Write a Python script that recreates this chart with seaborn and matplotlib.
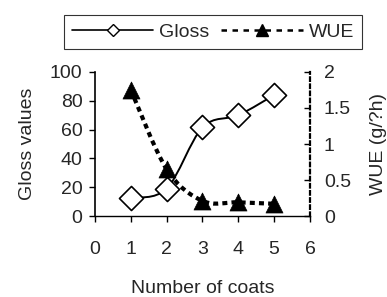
import numpy as np
import matplotlib
matplotlib.use("Agg")
import matplotlib.pyplot as plt
import seaborn as sns
import pandas as pd
from matplotlib.path import Path
from matplotlib.patches import PathPatch
from matplotlib.lines import Line2D

coats = [1, 2, 3, 4, 5]
gloss = [12.5, 19, 61.5, 70, 84]
wue = [1.75, 0.65, 0.21, 0.19, 0.17]
x_ticks = [0, 1, 2, 3, 4, 5, 6]
gloss_ticks = [0, 20, 40, 60, 80, 100]
wue_ticks = [0, 0.5, 1, 1.5, 2]
wue_tick_labels = ["0", "0.5", "1", "1.5", "2"]

sns.set_style("white")
plt.rcParams['font.family'] = ['Liberation Sans', 'DejaVu Sans']

df = pd.DataFrame({"coats": coats, "gloss": gloss, "wue": wue})

fig = plt.figure(figsize=(3.87, 2.97), dpi=100)
ax = fig.add_axes([0.2455, 0.2727, 0.5555, 0.4849])
ax2 = ax.twinx()


def smooth_path(xs, ys):
    pts = np.column_stack([xs, ys]).astype(float)
    ext = np.vstack([pts[0], pts, pts[-1]])
    verts = [tuple(pts[0])]
    codes = [Path.MOVETO]
    for i in range(len(pts) - 1):
        p0, p1, p2, p3 = ext[i], ext[i + 1], ext[i + 2], ext[i + 3]
        c1 = p1 + (p2 - p0) / 6.0
        c2 = p2 - (p3 - p1) / 6.0
        verts += [tuple(c1), tuple(c2), tuple(p2)]
        codes += [Path.CURVE4] * 3
    return Path(verts, codes)


ax.add_patch(PathPatch(smooth_path(df.coats, df.gloss), fill=False,
                       edgecolor="black", lw=1.4, zorder=2))
ax2.add_patch(PathPatch(smooth_path(df.coats, df.wue), fill=False,
                        edgecolor="black", lw=3.0, linestyle=(0, (1.2, 1.0)),
                        zorder=2))

sns.scatterplot(data=df, x="coats", y="gloss", ax=ax, marker="D", s=150,
                facecolor="white", edgecolor="black", linewidth=1.2, zorder=4,
                clip_on=False)
sns.scatterplot(data=df, x="coats", y="wue", ax=ax2, marker="^", s=150,
                color="black", edgecolor="black", linewidth=0.5, zorder=4,
                clip_on=False)

ax.set_xlim(0, 6)
ax.set_ylim(0, 100)
ax2.set_ylim(0, 2)
ax.set_xticks(x_ticks)
ax.set_yticks(gloss_ticks)
ax2.set_yticks(wue_ticks)
ax2.set_yticklabels(wue_tick_labels)

for s in ["top", "right"]:
    ax.spines[s].set_visible(False)
for s in ["top", "left", "bottom"]:
    ax2.spines[s].set_visible(False)
ax.spines["left"].set_color("black")
ax.spines["bottom"].set_color("black")
ax.spines["left"].set_linewidth(1.2)
ax.spines["bottom"].set_linewidth(1.0)
ax2.spines["right"].set_color("black")
ax2.spines["right"].set_linewidth(1.6)
ax2.spines["right"].set_linestyle((0, (1.6, 1.6)))

ax.tick_params(axis="both", which="major", labelsize=14, length=4, width=1,
               color="black", direction="out", left=True, bottom=True, pad=5)
ax.tick_params(axis="x", pad=14)
ax2.tick_params(axis="y", labelsize=14, length=4, width=1, color="black",
                direction="in", right=True, pad=10)

ax.set_xlabel("Number of coats", fontsize=14, labelpad=16)
ax.set_ylabel("Gloss values", fontsize=14, labelpad=10)
ax2.set_ylabel("WUE (g/?h)", fontsize=14, labelpad=14)

h1 = Line2D([], [], color="black", lw=1.2, marker="D", markersize=6,
            markerfacecolor="white", markeredgecolor="black")
h2 = Line2D([], [], color="black", lw=1.8, linestyle=(0, (2.2, 2.2)),
            marker="^", markersize=8, markerfacecolor="black")
leg = fig.legend([h1, h2], ["Gloss", "WUE"], loc="center",
                 bbox_to_anchor=(0.55, 0.892), ncol=2, fontsize=14,
                 handlelength=4.2, columnspacing=0.6, handletextpad=0.3,
                 frameon=True, fancybox=False, borderpad=0.4,
                 borderaxespad=0.0)
leg.get_frame().set_edgecolor("black")
leg.get_frame().set_linewidth(0.8)

fig.savefig("out.png", dpi=100)
